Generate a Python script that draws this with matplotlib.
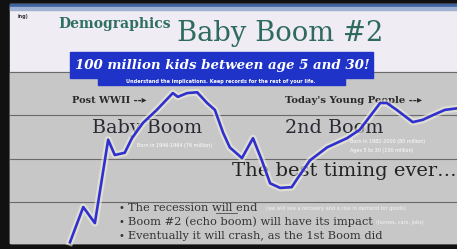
import matplotlib
matplotlib.use("Agg")
import matplotlib.pyplot as plt
from matplotlib.patches import Rectangle

# births curve (year, millions)
years = [1935.0, 1937.4, 1939.5, 1941.9, 1943.1, 1944.9, 1946.2, 1948.2, 1950.7,
         1953.6, 1954.5, 1956.2, 1958.0, 1959.8, 1961.2, 1962.7, 1963.9, 1966.1,
         1968.1, 1969.7, 1971.2, 1973.0, 1975.1, 1976.2, 1978.4, 1981.5, 1983.3,
         1985.1, 1987.4, 1989.2, 1991.1, 1992.3, 1994.1, 1997.0, 1998.8, 2000.6,
         2002.8, 2005.0]
births = [2.31, 2.77, 2.56, 3.65, 3.45, 3.48, 3.67, 3.87, 4.04,
          4.26, 4.21, 4.26, 4.27, 4.13, 4.04, 3.74, 3.55, 3.41,
          3.67, 3.38, 3.08, 3.02, 3.03, 3.15, 3.38, 3.55, 3.61,
          3.67, 3.78, 3.95, 4.13, 4.13, 4.04, 3.88, 3.91, 3.97,
          4.04, 4.06]

title_small = "Demographics"
title_big = "Baby Boom #2"
banner = "100 million kids between age 5 and 30!"
sub_banner = "Understand the implications. Keep records for the rest of your life."
bullets = ["The recession will end",
           "Boom #2 (echo boom) will have its impact",
           "Eventually it will crash, as the 1st Boom did"]
bullet_notes = ["(we will see a recovery and a rise in demand for goods)",
                "(homes, cars, jobs)",
                ""]

W, H = 457, 249
fig = plt.figure(figsize=(W / 100, H / 100), dpi=100)
fig.patch.set_facecolor("#111111")

# background axes in pixel units
ax = fig.add_axes([0, 0, 1, 1])
ax.set_xlim(0, W)
ax.set_ylim(H, 0)
ax.axis("off")
ax.set_facecolor("none")

ax.add_patch(Rectangle((10, 4), W - 10, 239, color="#efecf3", zorder=0))
ax.add_patch(Rectangle((10, 4), W - 10, 3, color="#3f62a0", zorder=1))
ax.add_patch(Rectangle((10, 7), W - 10, 3, color="#9fb2d4", zorder=1))
ax.add_patch(Rectangle((10, 72), W - 10, 171, color="#c7c7c7", zorder=1))
for yy in (72, 115, 159, 202):
    ax.plot([10, W], [yy, yy], color="#6a6a6a", lw=0.8, zorder=2)

ax.text(18, 16, "ing)", fontsize=3.5, color="#333333", fontweight="bold",
        va="center", zorder=3)

# title
ax.text(58, 28, title_small, fontsize=10, family="DejaVu Serif", fontweight="bold",
        color="#2f6f62", va="baseline", zorder=3)
ax.text(177, 41, title_big, fontsize=19.7, family="DejaVu Serif",
        color="#2e6b5e", va="baseline", zorder=3)

# banner
ax.add_patch(Rectangle((70, 52), 303, 26, color="#1f33c8", zorder=3))
ax.add_patch(Rectangle((98, 77), 247, 8, color="#1f33c8", zorder=3))
ax.text(222, 65, banner, fontsize=9.6, family="DejaVu Serif", fontweight="bold",
        style="italic", color="white", ha="center", va="center", zorder=4)
ax.text(221, 81.5, sub_banner, fontsize=3.6, family="DejaVu Sans", fontweight="bold",
        color="white", ha="center", va="center", zorder=4)

# chart annotations
ax.text(72, 100, "Post WWII --\u25b8", fontsize=7, family="DejaVu Serif",
        fontweight="bold", color="#2a2a2a", va="center", zorder=3)
ax.text(285, 100, "Today's Young People --\u25b8", fontsize=7.2, family="DejaVu Serif",
        fontweight="bold", color="#2a2a2a", va="center", zorder=3)
ax.text(92, 128, "Baby Boom", fontsize=13.8, family="DejaVu Serif",
        color="#2a2a35", va="center", zorder=3)
ax.text(285, 128, "2nd Boom", fontsize=13.8, family="DejaVu Serif",
        color="#2a2a35", va="center", zorder=3)
ax.text(137, 145, "Born in 1946-1964 (76 million)", fontsize=3.5,
        color="white", va="center", zorder=3)
ax.text(350, 141, "Born in 1982-2000 (80 million)", fontsize=3.5,
        color="white", va="center", zorder=3)
ax.text(350, 150, "Ages 5 to 30 (100 million)", fontsize=3.5,
        color="white", va="center", zorder=3)
ax.text(232, 171, "The best timing ever\u2026", fontsize=14, family="DejaVu Serif",
        color="#222222", va="center", zorder=3)

note_x = [266, 376, 0]
for i, (b, note) in enumerate(zip(bullets, bullet_notes)):
    yy = 208 + 14 * i
    ax.text(118, yy, "\u2022", fontsize=7, color="#333333", va="center", zorder=3)
    ax.text(128, yy, b, fontsize=8.2, family="DejaVu Serif",
            color="#333333", va="center", zorder=3)
    if note:
        ax.text(note_x[i], yy, note, fontsize=3.6,
                color="#f4f4f4", va="center", zorder=3)
ax.plot([216, 237], [213, 213], color="#333333", lw=0.5, zorder=3)

# births line, drawn over the slide
ax_line = fig.add_axes([70 / W, 6 / H, (W - 70) / W, 155 / H], zorder=5)
ax_line.set_facecolor("none")
ax_line.axis("off")
ax_line.set_xlim(1935, 2005)
ax_line.set_ylim(2.3, 2.3 + 155 / 76.5)
ax_line.plot(years, births, color="#f2f0dc", lw=5, alpha=0.6,
             solid_joinstyle="round", clip_on=False)
ax_line.plot(years, births, color="#3030d0", lw=1.9,
             solid_joinstyle="round", clip_on=False)

fig.savefig("out.png", dpi=100, facecolor=fig.get_facecolor())
